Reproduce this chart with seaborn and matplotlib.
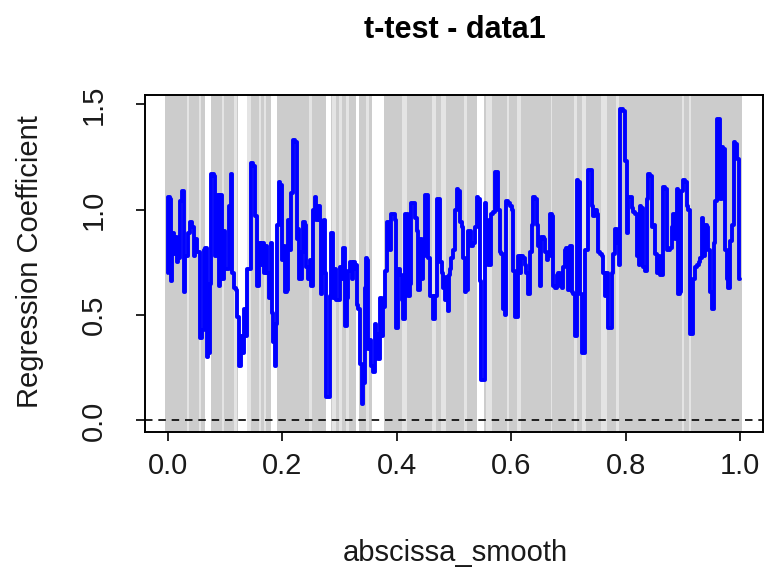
import matplotlib
matplotlib.use("Agg")
import matplotlib.pyplot as plt
import seaborn as sns
import pandas as pd

# ---- data ----
abscissa = [
    0.000, 0.001, 0.005, 0.006, 0.009, 0.012, 0.015, 0.017, 0.020, 0.023, 0.026, 0.029, 0.032, 0.037,
    0.041, 0.044, 0.046, 0.049, 0.052, 0.055, 0.058, 0.061, 0.064, 0.067, 0.069, 0.072, 0.074, 0.078,
    0.082, 0.084, 0.087, 0.090, 0.093, 0.096, 0.099, 0.102, 0.105, 0.108, 0.111, 0.114, 0.117, 0.120,
    0.123, 0.126, 0.129, 0.131, 0.134, 0.138, 0.139, 0.142, 0.148, 0.151, 0.154, 0.157,
    0.160, 0.163, 0.166, 0.169, 0.172, 0.175, 0.178, 0.181, 0.183, 0.185, 0.188, 0.190, 0.192, 0.195,
    0.198, 0.200, 0.203, 0.206, 0.209, 0.211, 0.214, 0.217, 0.221, 0.224, 0.226, 0.228, 0.230, 0.233,
    0.235, 0.238, 0.241, 0.243, 0.246, 0.249, 0.252, 0.255, 0.258, 0.261, 0.264, 0.267, 0.269, 0.271,
    0.274, 0.276, 0.278, 0.281, 0.284, 0.287, 0.290, 0.293, 0.296, 0.299, 0.302, 0.305, 0.308, 0.311,
    0.314, 0.316, 0.319, 0.323,
    0.324, 0.326, 0.329, 0.331, 0.334, 0.337, 0.340, 0.343, 0.345, 0.347, 0.349, 0.351, 0.354, 0.357,
    0.360, 0.363, 0.366, 0.369, 0.372, 0.375, 0.378, 0.381, 0.384, 0.386, 0.389, 0.392, 0.395, 0.398,
    0.401, 0.404, 0.407, 0.410, 0.413, 0.416, 0.419, 0.421, 0.424, 0.427, 0.430, 0.433, 0.436, 0.439,
    0.442, 0.445, 0.448, 0.450, 0.453, 0.456, 0.459, 0.462, 0.465, 0.468, 0.471, 0.474, 0.477, 0.480,
    0.483, 0.485, 0.488,
    0.490, 0.492, 0.494, 0.497, 0.500, 0.503, 0.506, 0.509, 0.512, 0.515, 0.518, 0.520, 0.523, 0.526,
    0.529, 0.532, 0.535, 0.538, 0.541, 0.544, 0.547, 0.549, 0.552, 0.555, 0.558, 0.561, 0.564, 0.567,
    0.570, 0.573, 0.576, 0.579, 0.581, 0.584, 0.587, 0.590, 0.593, 0.596, 0.599, 0.602, 0.605, 0.608,
    0.611, 0.614, 0.616, 0.619, 0.622, 0.625, 0.628, 0.631, 0.634, 0.637, 0.640, 0.643, 0.646, 0.649,
    0.651, 0.654,
    0.656, 0.658, 0.661, 0.663, 0.666, 0.669, 0.672, 0.675, 0.678, 0.681, 0.684, 0.687, 0.689, 0.692,
    0.695, 0.698, 0.701, 0.704, 0.707, 0.710, 0.713, 0.716, 0.719, 0.722, 0.724, 0.727, 0.730, 0.733,
    0.736, 0.739, 0.742, 0.745, 0.748, 0.751, 0.754, 0.757, 0.759, 0.762, 0.765, 0.768, 0.771, 0.774,
    0.777, 0.780, 0.783, 0.786, 0.789, 0.791, 0.794, 0.797, 0.800, 0.803, 0.806, 0.809, 0.812, 0.815,
    0.818, 0.821,
    0.822, 0.824, 0.826, 0.829, 0.832, 0.835, 0.838, 0.841, 0.844, 0.847, 0.850, 0.853, 0.856, 0.858,
    0.861, 0.864, 0.867, 0.870, 0.873, 0.876, 0.879, 0.882, 0.885, 0.888, 0.890, 0.893, 0.896, 0.899,
    0.902, 0.905, 0.908, 0.911, 0.914, 0.917, 0.920, 0.923, 0.926, 0.929, 0.932, 0.934, 0.937, 0.940,
    0.943, 0.946, 0.949, 0.952, 0.955, 0.958, 0.960, 0.963, 0.966, 0.969, 0.972, 0.975, 0.978, 0.981,
    0.984, 0.987, 0.990, 0.993, 0.996, 1.000,
]
coefficient = [
    0.70, 1.06, 1.05, 0.66, 0.89, 0.79, 0.87, 0.75, 0.77, 1.04, 1.09, 0.61, 0.78, 0.89,
    0.94, 0.92, 0.78, 0.86, 0.80, 0.80, 0.39, 0.43, 0.81, 0.82, 0.30, 0.32, 0.65, 1.17,
    1.16, 0.78, 1.07, 0.64, 1.07, 0.67, 0.90, 0.72, 0.72, 1.02, 1.17, 0.70, 0.63, 0.62,
    0.49, 0.26, 0.40, 0.32, 0.53, 0.40, 0.72, 0.72, 1.22, 1.21, 0.97, 0.64,
    0.84, 0.74, 0.84, 0.70, 0.83, 0.70, 0.58, 0.84, 0.51, 0.37, 0.26, 0.46, 0.93, 1.13,
    1.12, 0.76, 0.83, 0.61, 0.62, 0.95, 0.81, 1.08, 1.33, 1.32, 0.86, 0.91, 0.67, 0.67,
    0.80, 0.94, 0.93, 0.73, 0.67, 0.76, 0.64, 1.00, 1.06, 0.95, 1.02, 0.95, 0.60, 0.71,
    0.95, 0.70, 0.11, 0.11, 0.59, 0.89, 0.58, 0.72, 0.57, 0.57, 0.73, 0.67, 0.82, 0.45,
    0.58, 0.71, 0.75, 0.67,
    0.72, 0.75, 0.74, 0.55, 0.53, 0.27, 0.08, 0.18, 0.63, 0.77, 0.76, 0.34, 0.38, 0.26,
    0.23, 0.46, 0.41, 0.29, 0.58, 0.40, 0.54, 0.71, 0.94, 0.94, 0.81, 0.98, 0.98, 0.95,
    0.44, 0.72, 0.69, 0.57, 0.48, 0.98, 0.98, 0.59, 0.65, 1.03, 1.03, 0.96, 0.90, 0.62,
    0.86, 0.67, 0.78, 1.07, 1.07, 0.77, 0.59, 0.59, 0.48, 0.59, 1.05, 1.05, 0.75, 0.70,
    0.63, 0.57, 0.68,
    0.52, 0.69, 0.72, 0.77, 0.81, 1.00, 1.10, 1.09, 0.94, 0.92, 0.77, 0.61, 0.62, 0.90,
    0.90, 0.83, 0.84, 0.92, 1.06, 1.05, 0.66, 0.19, 0.19, 1.03, 0.95, 0.74, 0.74, 0.98,
    0.99, 1.18, 1.18, 1.00, 0.80, 0.79, 0.53, 0.50, 1.04, 1.03, 1.02, 1.00, 0.71, 0.49,
    0.49, 0.78, 0.70, 0.78, 0.77, 0.74, 0.70, 0.60, 0.80, 0.93, 1.06, 1.05, 0.93, 0.83,
    0.64, 0.87,
    0.87, 0.86, 0.80, 0.76, 0.78, 0.98, 0.97, 0.64, 0.63, 0.69, 0.70, 0.64, 0.63, 0.73,
    0.81, 0.82, 0.62, 0.83, 0.61, 0.60, 0.40, 1.14, 1.13, 0.60, 0.32, 0.32, 0.81, 0.81,
    1.19, 1.19, 1.02, 0.97, 1.00, 0.98, 0.80, 0.79, 0.78, 0.70, 0.59, 0.70, 0.44, 0.44,
    0.70, 0.79, 0.91, 0.84, 0.74, 1.48, 1.48, 1.47, 1.23, 0.89, 1.06, 1.06, 1.01, 0.99,
    0.98, 0.78,
    0.88, 0.74, 1.02, 1.01, 0.73, 0.71, 1.05, 1.17, 1.16, 0.92, 0.93, 0.79, 0.70, 0.78,
    0.69, 0.69, 1.11, 1.10, 0.81, 0.81, 0.82, 0.92, 0.98, 0.86, 1.10, 0.60, 0.61, 1.09,
    1.14, 1.13, 1.02, 1.00, 0.41, 0.41, 0.67, 0.73, 0.74, 0.75, 0.77, 0.96, 0.78, 0.93,
    0.92, 0.81, 0.61, 0.53, 0.84, 1.04, 1.43, 1.43, 1.05, 1.30, 1.29, 0.81, 0.67, 0.63,
    0.85, 0.93, 1.32, 1.31, 1.24, 0.67,
]

# significance shading: full grey span with non-significant gaps
sig_range = (-0.005, 1.003)
white_gaps = [(0.065, 0.076), (0.122, 0.138), (0.180, 0.190), (0.276, 0.285),
              (0.329, 0.334), (0.357, 0.378), (0.540, 0.552)]
light_gaps = [(0.033, 0.037), (0.054, 0.058), (0.094, 0.098), (0.115, 0.120),
              (0.138, 0.145), (0.159, 0.163), (0.168, 0.171), (0.247, 0.252),
              (0.287, 0.294), (0.299, 0.304), (0.311, 0.316), (0.346, 0.351),
              (0.409, 0.418), (0.462, 0.469), (0.477, 0.486), (0.517, 0.523),
              (0.556, 0.566), (0.593, 0.596), (0.610, 0.617), (0.670, 0.672),
              (0.710, 0.715), (0.724, 0.731), (0.757, 0.767), (0.783, 0.788),
              (0.899, 0.902), (0.911, 0.914)]

x_ticks = [0.0, 0.2, 0.4, 0.6, 0.8, 1.0]
x_ticklabels = ["0.0", "0.2", "0.4", "0.6", "0.8", "1.0"]
y_ticks = [0.0, 0.5, 1.0, 1.5]
y_ticklabels = ["0.0", "0.5", "1.0", "1.5"]

title = "t-test - data1"
xlabel = "abscissa_smooth"
ylabel = "Regression Coefficient"

# ---- plotting ----
sns.set_theme(style="white")
plt.rcParams['font.family'] = ['Liberation Sans', 'DejaVu Sans']

W, H = 764, 573
fig = plt.figure(figsize=(W / 100, H / 100), dpi=100)
ax = fig.add_axes([145 / W, (H - 432) / H, 618 / W, 337 / H])

ax.axvspan(sig_range[0], sig_range[1], color="#cccccc", lw=0, zorder=0)
for a, b in light_gaps:
    ax.axvspan(a, b, color="#e4e4e4", lw=0, zorder=0.5)
for a, b in white_gaps:
    ax.axvspan(a, b, color="white", lw=0, zorder=0.6)

df = pd.DataFrame({"abscissa_smooth": abscissa, "coef": coefficient})
sns.lineplot(data=df, x="abscissa_smooth", y="coef", sort=False, estimator=None,
             color="#0000ff", linewidth=2.8, drawstyle="steps-mid", ax=ax, zorder=3)

ax.axhline(0, color="black", lw=1.2, dashes=(4.5, 3.5), zorder=2)

ax.set_xlim(-0.04, 1.04)
ax.set_ylim(-0.055, 1.545)
ax.set_xticks(x_ticks)
ax.set_xticklabels(x_ticklabels)
ax.set_yticks(y_ticks)
ax.set_yticklabels(y_ticklabels, rotation=90, va="center")
ax.set_xlabel("")
ax.set_ylabel("")

for s in ax.spines.values():
    s.set_visible(True)
    s.set_color("black")
    s.set_linewidth(1.4)

ax.tick_params(axis="both", which="both", direction="out", length=6.5, width=1.2,
               color="black", labelsize=21, labelcolor="#1a1a1a")
ax.tick_params(axis="x", pad=8, bottom=True)
ax.tick_params(axis="y", pad=20, left=True)

fig.text(455 / W, 1 - 30 / H, title, ha="center", va="center",
         fontsize=22, fontweight="bold", color="black")
fig.text(455 / W, 1 - 553 / H, xlabel, ha="center", va="center",
         fontsize=21, color="#1a1a1a")
fig.text(30 / W, 1 - 262 / H, ylabel, ha="center", va="center", rotation=90,
         fontsize=21, color="#1a1a1a")

fig.savefig("out.png", dpi=100)
